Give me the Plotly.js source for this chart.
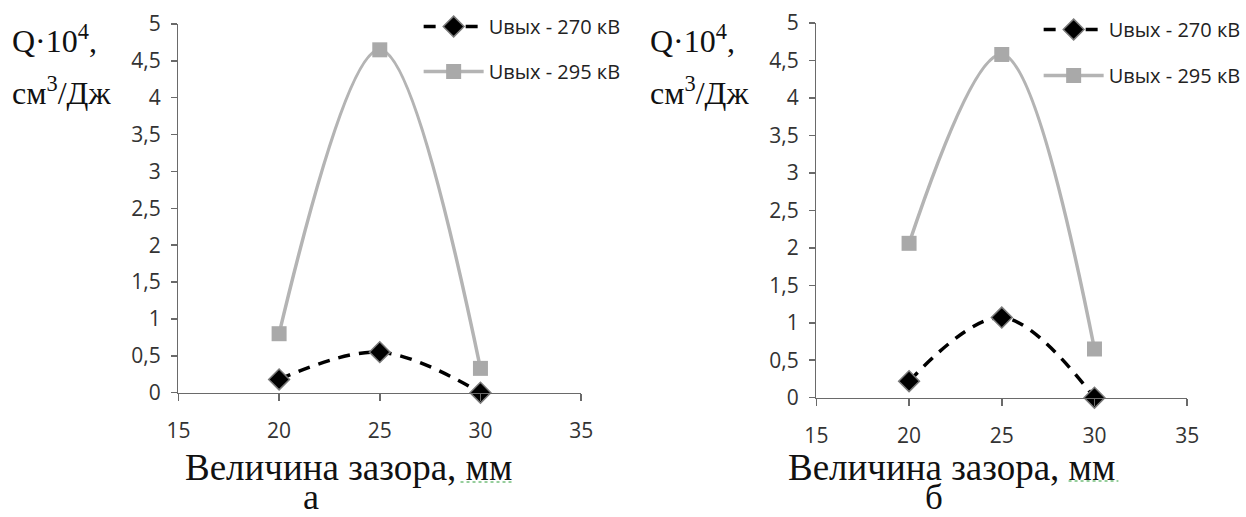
<!DOCTYPE html>
<html><head><meta charset="utf-8">
<script src="https://cdn.plot.ly/plotly-3.0.1.min.js"></script>
<style>html,body{margin:0;padding:0;background:#fff}#chart{width:1246px;height:517px}</style>
</head><body><div id="chart"></div>
<script>
// Data
const gapMM = [20, 25, 30];
const a_270 = [0.18, 0.55, 0.0];
const a_295 = [0.80, 4.65, 0.33];
const b_270 = [0.22, 1.07, 0.0];
const b_295 = [2.06, 4.58, 0.65];
const seriesNames = ['Uвых - 270 кВ', 'Uвых - 295 кВ'];
const yTickVals = [0,0.5,1,1.5,2,2.5,3,3.5,4,4.5,5];
const yTickText = ['0','0,5','1','1,5','2','2,5','3','3,5','4','4,5','5'];
const xTickVals = [15,20,25,30,35];
const xTitle = 'Величина зазора, мм';
const yTitle1 = 'Q·10<sup>4</sup>,';
const yTitle2 = 'см<sup>3</sup>/Дж';
const panelLabels = ['а', 'б'];

const W = 1246, H = 517;
const px = x => x / W, py = y => 1 - y / H;

const tickFont = {family: 'Open Sans, sans-serif', size: 21, color: '#333'};
const serif = 'Liberation Serif, Times New Roman, serif';

function s270(x, y, xa, ya, leg) {
  return {x, y, xaxis: xa, yaxis: ya, name: seriesNames[0], legend: leg, legendgroup: leg + 'a',
    type: 'scatter', mode: 'lines+markers', cliponaxis: false,
    line: {color: '#000', width: 3.5, dash: '12px,9px', shape: 'spline', smoothing: 1},
    marker: {symbol: 'diamond', size: 16, color: '#000', line: {color: '#7a7a7a', width: 1.5}}};
}
function s295(x, y, xa, ya, leg) {
  return {x, y, xaxis: xa, yaxis: ya, name: seriesNames[1], legend: leg, legendgroup: leg + 'b',
    type: 'scatter', mode: 'lines+markers', cliponaxis: false,
    line: {color: '#b4b4b4', width: 3.5, shape: 'spline', smoothing: 1},
    marker: {symbol: 'square', size: 15, color: '#a9a9a9'}};
}

const data = [
  s270(gapMM, a_270, 'x', 'y', 'legend'),
  s295(gapMM, a_295, 'x', 'y', 'legend'),
  s270(gapMM, b_270, 'x2', 'y2', 'legend2'),
  s295(gapMM, b_295, 'x2', 'y2', 'legend2')
];

function xAx(dom, anchor) {
  return {domain: dom, anchor, range: [15, 35], tickvals: xTickVals, showline: true, linecolor: '#6a6a6a',
    linewidth: 1.5, ticks: 'outside', ticklen: 7, tickcolor: '#6a6a6a', tickwidth: 1.5, showgrid: false,
    zeroline: false, tickfont: tickFont, ticklabelstandoff: 12, fixedrange: true};
}
function yAx(dom, anchor) {
  return {domain: dom, anchor, range: [0, 5], tickvals: yTickVals, ticktext: yTickText, showline: true,
    linecolor: '#6a6a6a', linewidth: 1.5, ticks: 'outside', ticklen: 6, tickcolor: '#6a6a6a', tickwidth: 1.5,
    showgrid: false, zeroline: false, tickfont: tickFont, ticklabelstandoff: 6, fixedrange: true};
}

const legFont = {family: 'Open Sans, sans-serif', size: 20, color: '#222'};
function ann(text, x, y, size, opts) {
  return Object.assign({text, x: px(x), y: py(y), xref: 'paper', yref: 'paper', showarrow: false,
    xanchor: 'left', yanchor: 'middle', font: {family: serif, size, color: '#111'}}, opts || {});
}

const layout = {
  width: W, height: H, margin: {l: 0, r: 0, t: 0, b: 0}, paper_bgcolor: '#fff', plot_bgcolor: 'rgba(0,0,0,0)',
  showlegend: true,
  xaxis: xAx([px(179), px(583)], 'y'),
  yaxis: yAx([py(392.7), py(24)], 'x'),
  xaxis2: xAx([px(819), px(1191)], 'y2'),
  yaxis2: yAx([py(397.7), py(23)], 'x2'),
  legend: {x: px(420), y: py(7), xanchor: 'left', yanchor: 'top', font: legFont, bgcolor: 'rgba(0,0,0,0)',
    traceorder: 'grouped', tracegroupgap: 16, itemwidth: 60},
  legend2: {x: px(1042), y: py(10), xanchor: 'left', yanchor: 'top', font: legFont, bgcolor: 'rgba(0,0,0,0)',
    traceorder: 'grouped', tracegroupgap: 17, itemwidth: 60},
  annotations: [
    ann(yTitle1, 10, 39, 32), ann(yTitle2, 10, 91, 32),
    ann(yTitle1, 650, 39, 32), ann(yTitle2, 650, 91, 32),
    ann(xTitle, 350, 467, 37, {xanchor: 'center'}),
    ann(panelLabels[0], 312, 519, 36, {xanchor: 'center', yanchor: 'bottom'}),
    ann(xTitle, 955, 467, 37, {xanchor: 'center'}),
    ann(panelLabels[1], 937, 519, 35, {xanchor: 'center', yanchor: 'bottom'})
  ],
  shapes: [
    {type: 'line', xref: 'paper', yref: 'paper', x0: px(462), x1: px(516), y0: py(482), y1: py(482),
      line: {color: '#2e9e3a', width: 1.2, dash: 'dot'}},
    {type: 'line', xref: 'paper', yref: 'paper', x0: px(1072), x1: px(1122), y0: py(481), y1: py(481),
      line: {color: '#2e9e3a', width: 1.2, dash: 'dot'}}
  ]
};

Plotly.newPlot('chart', data, layout, {displayModeBar: false, staticPlot: true});
</script></body></html>
